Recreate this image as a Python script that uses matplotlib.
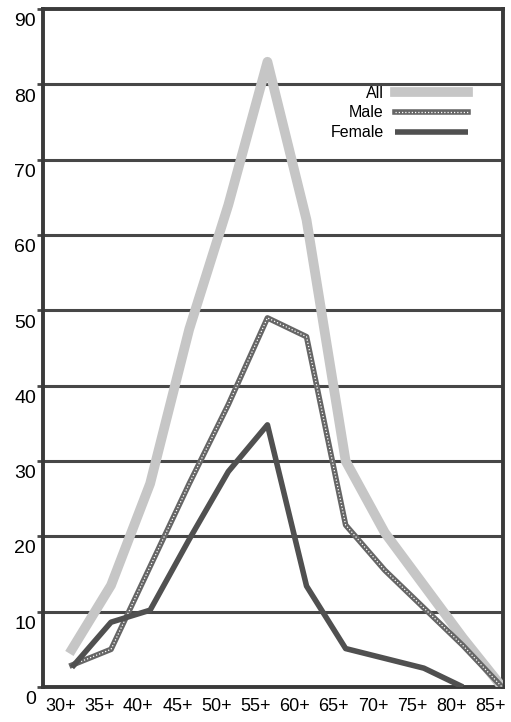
import numpy as np
import matplotlib
matplotlib.use('Agg')
import matplotlib.pyplot as plt
import matplotlib.transforms as mtransforms
from matplotlib.legend_handler import HandlerTuple

ages = ['30+', '35+', '40+', '45+', '50+', '55+', '60+', '65+', '70+', '75+', '80+', '85+']
all_pct = [5.0, 13.5, 27.0, 47.5, 64.0, 83.0, 62.0, 30.0, 20.5, 13.5, 6.5, 0.0]
male_pct = [2.9, 5.0, 16.0, 27.0, 37.5, 49.0, 46.5, 21.5, 15.5, 10.5, 5.5, 0.0]
female_pct = [2.6, 8.6, 10.2, 19.6, 28.6, 34.8, 13.4, 5.1, 3.8, 2.5, 0.0, np.nan]
yticks = [0, 10, 20, 30, 40, 50, 60, 70, 80, 90]

plt.rcParams['font.family'] = ['Liberation Sans', 'DejaVu Sans']

fig = plt.figure(figsize=(5.11, 7.22), dpi=100)
ax = fig.add_axes([0.084, 0.0485, 0.900, 0.939])

x = np.arange(len(ages))

# grid lines first, curves on top
for v in yticks[1:-1]:
    ax.axhline(v, color='#474747', lw=2.2, zorder=1)

h_all, = ax.plot(x, all_pct, color='#c6c6c6', lw=7, zorder=3)
h_male, = ax.plot(x, male_pct, color='#666666', lw=4, zorder=4)
h_dots, = ax.plot(x, male_pct, color='white', lw=0.9, ls=(0, (1, 1.6)), zorder=4.5)
h_fem, = ax.plot(x, female_pct, color='#505050', lw=4, zorder=5, solid_capstyle='butt')

ax.set_xlim(-0.742, 11.02)
ax.set_ylim(0, 90)

ax.set_yticks(yticks)
ax.set_yticklabels([str(v) for v in yticks], fontsize=14)
ax.tick_params(axis='y', length=4, width=2, color='#474747', pad=1)
offset = mtransforms.ScaledTranslation(0, -3 / 72, fig.dpi_scale_trans)
for lab in ax.get_yticklabels():
    lab.set_verticalalignment('top')
    lab.set_transform(lab.get_transform() + offset)

ax.set_xticks(x - 0.3)
ax.set_xticklabels(ages, fontsize=13)
ax.tick_params(axis='x', length=0, pad=8)

for s in ax.spines.values():
    s.set_linewidth(2.8)
    s.set_color('#3a3a3a')

ax.legend(handles=[h_all, (h_male, h_dots), h_fem], labels=['All', 'Male', 'Female'],
          handler_map={tuple: HandlerTuple(ndivide=1, pad=0)},
          loc='upper right', bbox_to_anchor=(0.925, 0.887), frameon=False,
          markerfirst=False, fontsize=11.5,
          handlelength=4.6, handletextpad=0.7, labelspacing=0.3,
          borderpad=0, borderaxespad=0)

plt.savefig('out.png', dpi=100)
